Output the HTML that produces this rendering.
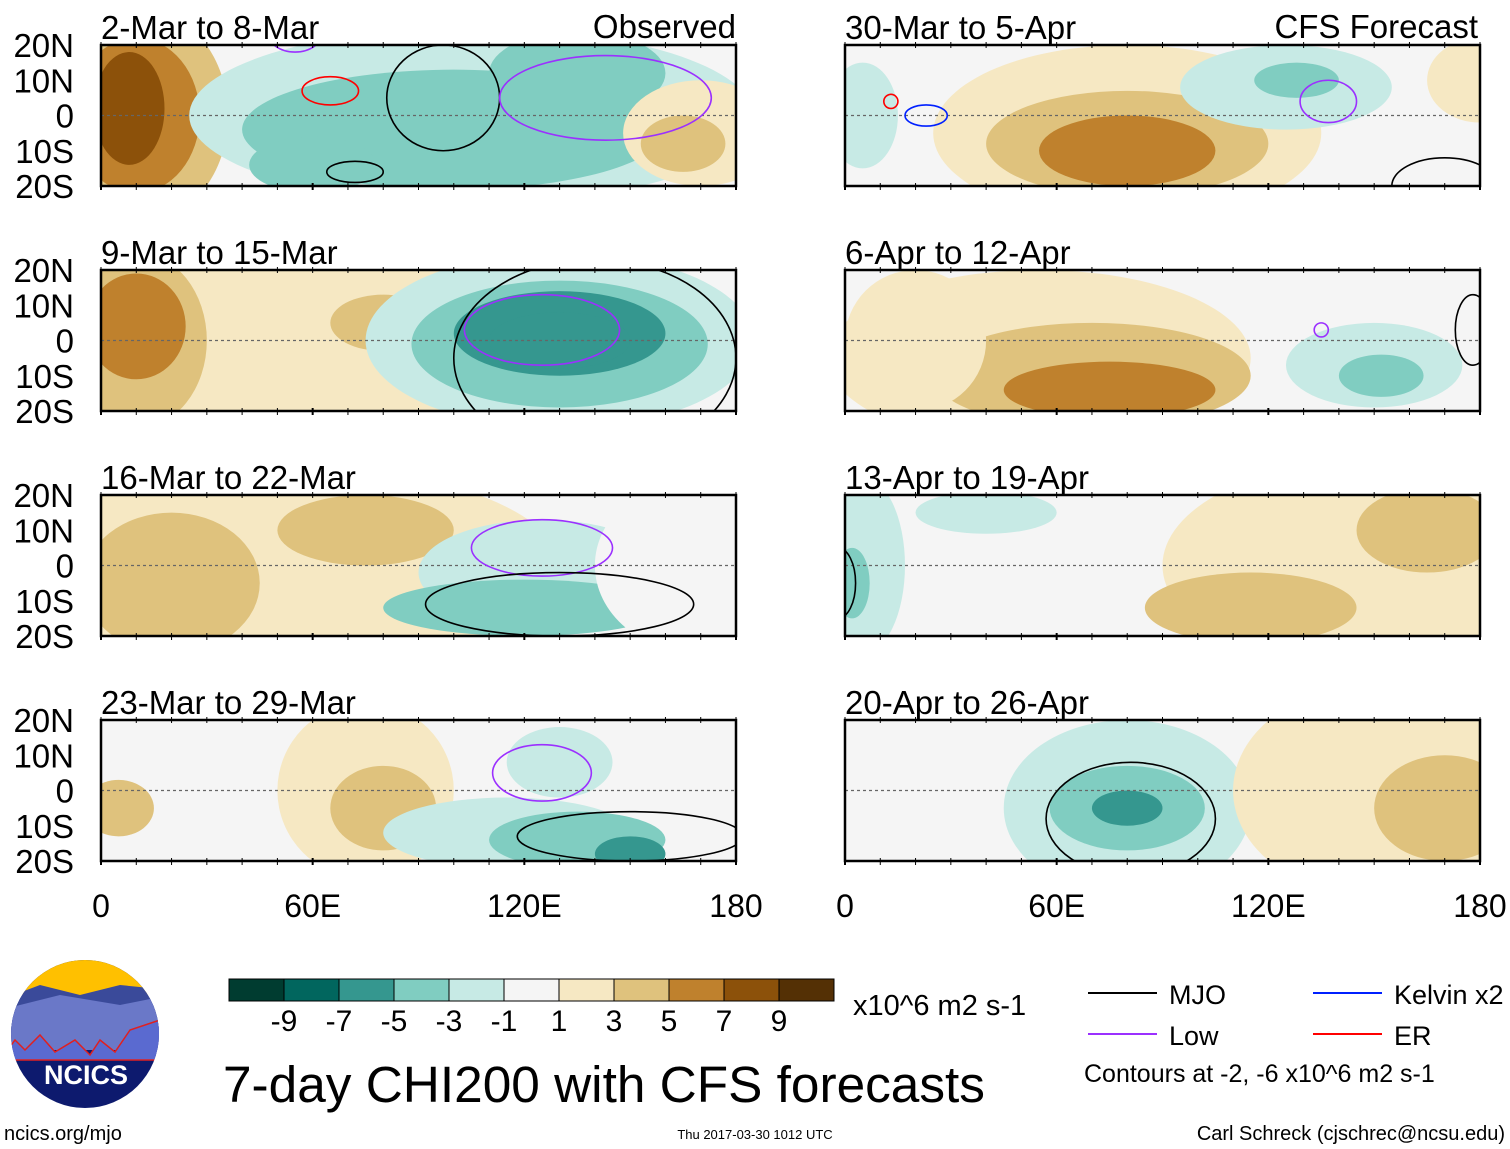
<!DOCTYPE html>
<html><head><meta charset="utf-8"><style>
body{margin:0;background:#fff;font-family:"Liberation Sans",sans-serif}
svg{display:block}
</style></head><body>
<svg id="c" width="1510" height="1149" xmlns="http://www.w3.org/2000/svg" font-family="Liberation Sans, sans-serif"></svg>
<script>
const panelTitles=["2-Mar to 8-Mar","9-Mar to 15-Mar","16-Mar to 22-Mar","23-Mar to 29-Mar","30-Mar to 5-Apr","6-Apr to 12-Apr","13-Apr to 19-Apr","20-Apr to 26-Apr"];
const latTicks=["20N","10N","0","10S","20S"];
const lonTicks=["0","60E","120E","180"];
const cbLabels=["-9","-7","-5","-3","-1","1","3","5","7","9"];
// blobs: [lon, lat, rlon, rlat, value]
const blobs0=[[12,0,24,30,4],[10,0,18,22,6],[8,2,10,16,7],[105,0,80,25,-2],[100,-4,60,17,-4],[135,12,25,12,-5],[60,-14,18,8,-5],[170,-5,22,15,2],[165,-8,12,8,4]];
const blobs1=[[60,0,70,25,2],[10,0,20,25,4],[10,4,14,15,6],[80,5,15,8,4],[130,0,55,25,-2],[130,-1,42,18,-4],[130,2,30,12,-6],[130,0,20,8,-7]];
const blobs2=[[40,0,90,30,2],[20,-5,25,20,4],[75,10,25,10,4],[125,-2,35,15,-2],[120,-12,40,8,-4],[170,0,30,25,0]];
const blobs3=[[75,0,25,25,2],[80,-5,15,12,4],[115,-12,35,10,-2],[135,-14,25,8,-4],[150,-18,10,5,-6],[5,-5,10,8,4],[130,8,15,10,-2]];
const blobs4=[[80,-5,55,25,2],[80,-8,40,15,4],[80,-10,25,10,6],[125,8,30,12,-2],[128,10,12,5,-4],[180,10,15,12,2],[5,0,10,15,-2]];
const blobs5=[[55,-5,60,25,2],[70,-10,45,15,4],[75,-14,30,8,6],[150,-7,25,12,-2],[152,-10,12,6,-4],[20,0,20,20,2]];
const blobs6=[[150,0,60,30,2],[165,10,20,12,4],[115,-12,30,10,4],[5,0,12,25,-2],[2,-5,5,10,-4],[40,15,20,6,-2]];
const blobs7=[[80,-5,35,25,-2],[80,-5,22,12,-4],[80,-5,10,5,-6],[150,0,40,30,2],[170,-5,20,15,4]];
const allBlobs=[blobs0,blobs1,blobs2,blobs3,blobs4,blobs5,blobs6,blobs7];
// contours: [type, lon, lat, rlon, rlat]
const cont0=[["M",97,5,16,15],["L",143,5,30,12],["E",65,7,8,4],["M",72,-16,8,3],["L",55,24,8,6]];
const cont1=[["L",125,3,22,10],["M",140,-5,40,28]];
const cont2=[["L",125,5,20,8],["M",130,-11,38,9]];
const cont3=[["L",125,5,14,8],["M",150,-13,32,7]];
const cont4=[["K",23,0,6,3],["E",13,4,2,2],["L",137,4,8,6],["M",170,-20,15,8]];
const cont5=[["L",135,3,2,2],["M",178,3,5,10]];
const cont6=[["M",-2,-5,5,10]];
const cont7=[["M",81,-8,24,16]];
const allCont=[cont0,cont1,cont2,cont3,cont4,cont5,cont6,cont7];
const cbColors=["#003c30","#01665e","#35978f","#80cdc1","#c7eae5","#f5f5f5","#f6e8c3","#dfc27d","#bf812d","#8c510a","#543005"];
function col(v){const i=Math.max(0,Math.min(10,Math.round((v+10)/2)));return cbColors[i];}
const S=document.getElementById('c');const NS="http://www.w3.org/2000/svg";
function mk(t,a,p){const e=document.createElementNS(NS,t);for(const k in a)e.setAttribute(k,a[k]);(p||S).appendChild(e);return e;}
const lineCol={M:"#000",L:"#9b30ff",K:"#0020ff",E:"#ff0000"};
const panelW=635,panelH=141;
allBlobs.forEach((bl,i)=>{
 const col0=i<4?0:1,row=i%4;
 const x0=col0?845:101, y0=45+row*225;
 const sx=l=>x0+l/180*panelW, sy=la=>y0+(20-la)/40*panelH;
 const g=mk('g',{});
 
 
 const cpE=mk('clipPath',{id:'cp'+i},g);
 mk('rect',{x:x0,y:y0,width:panelW,height:panelH},cpE);
 const inner=mk('g',{'clip-path':'url(#cp'+i+')'},g);
 mk('rect',{x:x0,y:y0,width:panelW,height:panelH,fill:"#f5f5f5"},inner);
 bl.forEach(b=>{const e=mk('ellipse',{cx:sx(b[0]),cy:sy(b[1]),rx:b[2]/180*panelW,ry:b[3]/40*panelH,fill:col(b[4])},inner);
  });
 mk('line',{x1:x0,x2:x0+panelW,y1:sy(0),y2:sy(0),stroke:"#666","stroke-dasharray":"3,3","stroke-width":1.2},inner);
 allCont[i].forEach(c=>{const e=mk('ellipse',{cx:sx(c[1]),cy:sy(c[2]),rx:c[3]/180*panelW,ry:c[4]/40*panelH,fill:"none",stroke:lineCol[c[0]],"stroke-width":1.6},inner);
  });
 mk('rect',{x:x0,y:y0,width:panelW,height:panelH,fill:"none",stroke:"#000","stroke-width":2.5},g);
 for(let k=0;k<=18;k++){const x=x0+k/18*panelW;mk('line',{x1:x,x2:x,y1:y0-3,y2:y0+3,stroke:"#000"},g);mk('line',{x1:x,x2:x,y1:y0+panelH-3,y2:y0+panelH+4,stroke:"#000","stroke-width":k%6==0?2:1},g);}
 const t=mk('text',{x:x0,y:y0-6,'font-size':33},g);t.textContent=panelTitles[i];
 
 if(col0==0){latTicks.forEach((l,k)=>{const tt=mk('text',{x:74,y:y0+k*panelH/4+12,'font-size':33,'text-anchor':'end'},g);tt.textContent=l;
  });}
 if(row==3){lonTicks.forEach((l,k)=>{const tt=mk('text',{x:x0+k*panelW/3,y:917,'font-size':32,'text-anchor':'middle'},g);tt.textContent=l;
  });}
});
let t=mk('text',{x:736,y:38,'font-size':33,'text-anchor':'end'});t.textContent="Observed";

t=mk('text',{x:1478,y:38,'font-size':33,'text-anchor':'end'});t.textContent="CFS Forecast";

const cb=mk('g',{});
cbColors.forEach((c,k)=>mk('rect',{x:229+k*55,y:979,width:55,height:22,fill:c,stroke:"#000"},cb));
cbLabels.forEach((l,k)=>{const tt=mk('text',{x:284+k*55,y:1031,'font-size':30,'text-anchor':'middle'},cb);tt.textContent=l;});
t=mk('text',{x:853,y:1015,'font-size':29});t.textContent="x10^6 m2 s-1";

t=mk('text',{x:223,y:1102,'font-size':51,textLength:762,lengthAdjust:'spacingAndGlyphs'});t.textContent="7-day CHI200 with CFS forecasts";

const lg=mk('g',{});
[["MJO","#000",1088,1157,993],["Low","#9b30ff",1088,1157,1034],["Kelvin x2","#0020ff",1313,1382,993],["ER","#ff0000",1313,1382,1034]].forEach(e=>{
 mk('line',{x1:e[2],x2:e[3],y1:e[4],y2:e[4],stroke:e[1],'stroke-width':2},lg);
 const tt=mk('text',{x:e[3]+12,y:e[4]+11,'font-size':27},lg);tt.textContent=e[0];});
t=mk('text',{x:1084,y:1082,'font-size':25});t.textContent="Contours at -2, -6 x10^6 m2 s-1";

t=mk('text',{x:4,y:1140,'font-size':20});t.textContent="ncics.org/mjo";

t=mk('text',{x:755,y:1139,'font-size':13,'text-anchor':'middle'});t.textContent="Thu 2017-03-30 1012 UTC";

t=mk('text',{x:1505,y:1140,'font-size':20,'text-anchor':'end'});t.textContent="Carl Schreck (cjschrec@ncsu.edu)";

const lo=mk('g',{});
const lcE=mk('clipPath',{id:'lc'},lo);mk('ellipse',{cx:85,cy:1034,rx:74,ry:74},lcE);
const li=mk('g',{'clip-path':'url(#lc)'},lo);
mk('rect',{x:0,y:950,width:170,height:170,fill:"#0d1a6e"},li);
mk('rect',{x:0,y:950,width:170,height:45,fill:"#ffc000"},li);
mk('path',{d:"M0,1000 L40,985 L80,995 L120,985 L170,990 L170,1030 L0,1030Z",fill:"#3a4a9a"},li);
mk('path',{d:"M0,1010 L60,995 L120,1005 L170,995 L170,1050 L0,1050Z",fill:"#6a78c8"},li);
mk('path',{d:"M0,1060 L15,1040 L25,1050 L40,1035 L55,1052 L75,1040 L90,1055 L100,1040 L115,1052 L130,1030 L160,1020 L170,1010 L170,1060Z",fill:"#5a6ad0",stroke:"#e02020","stroke-width":1.5},li);
t=mk('text',{x:86,y:1084,'font-size':27,'font-weight':'bold',fill:"#fff",'text-anchor':'middle'},lo);t.textContent="NCICS";
</script>
</body></html>
